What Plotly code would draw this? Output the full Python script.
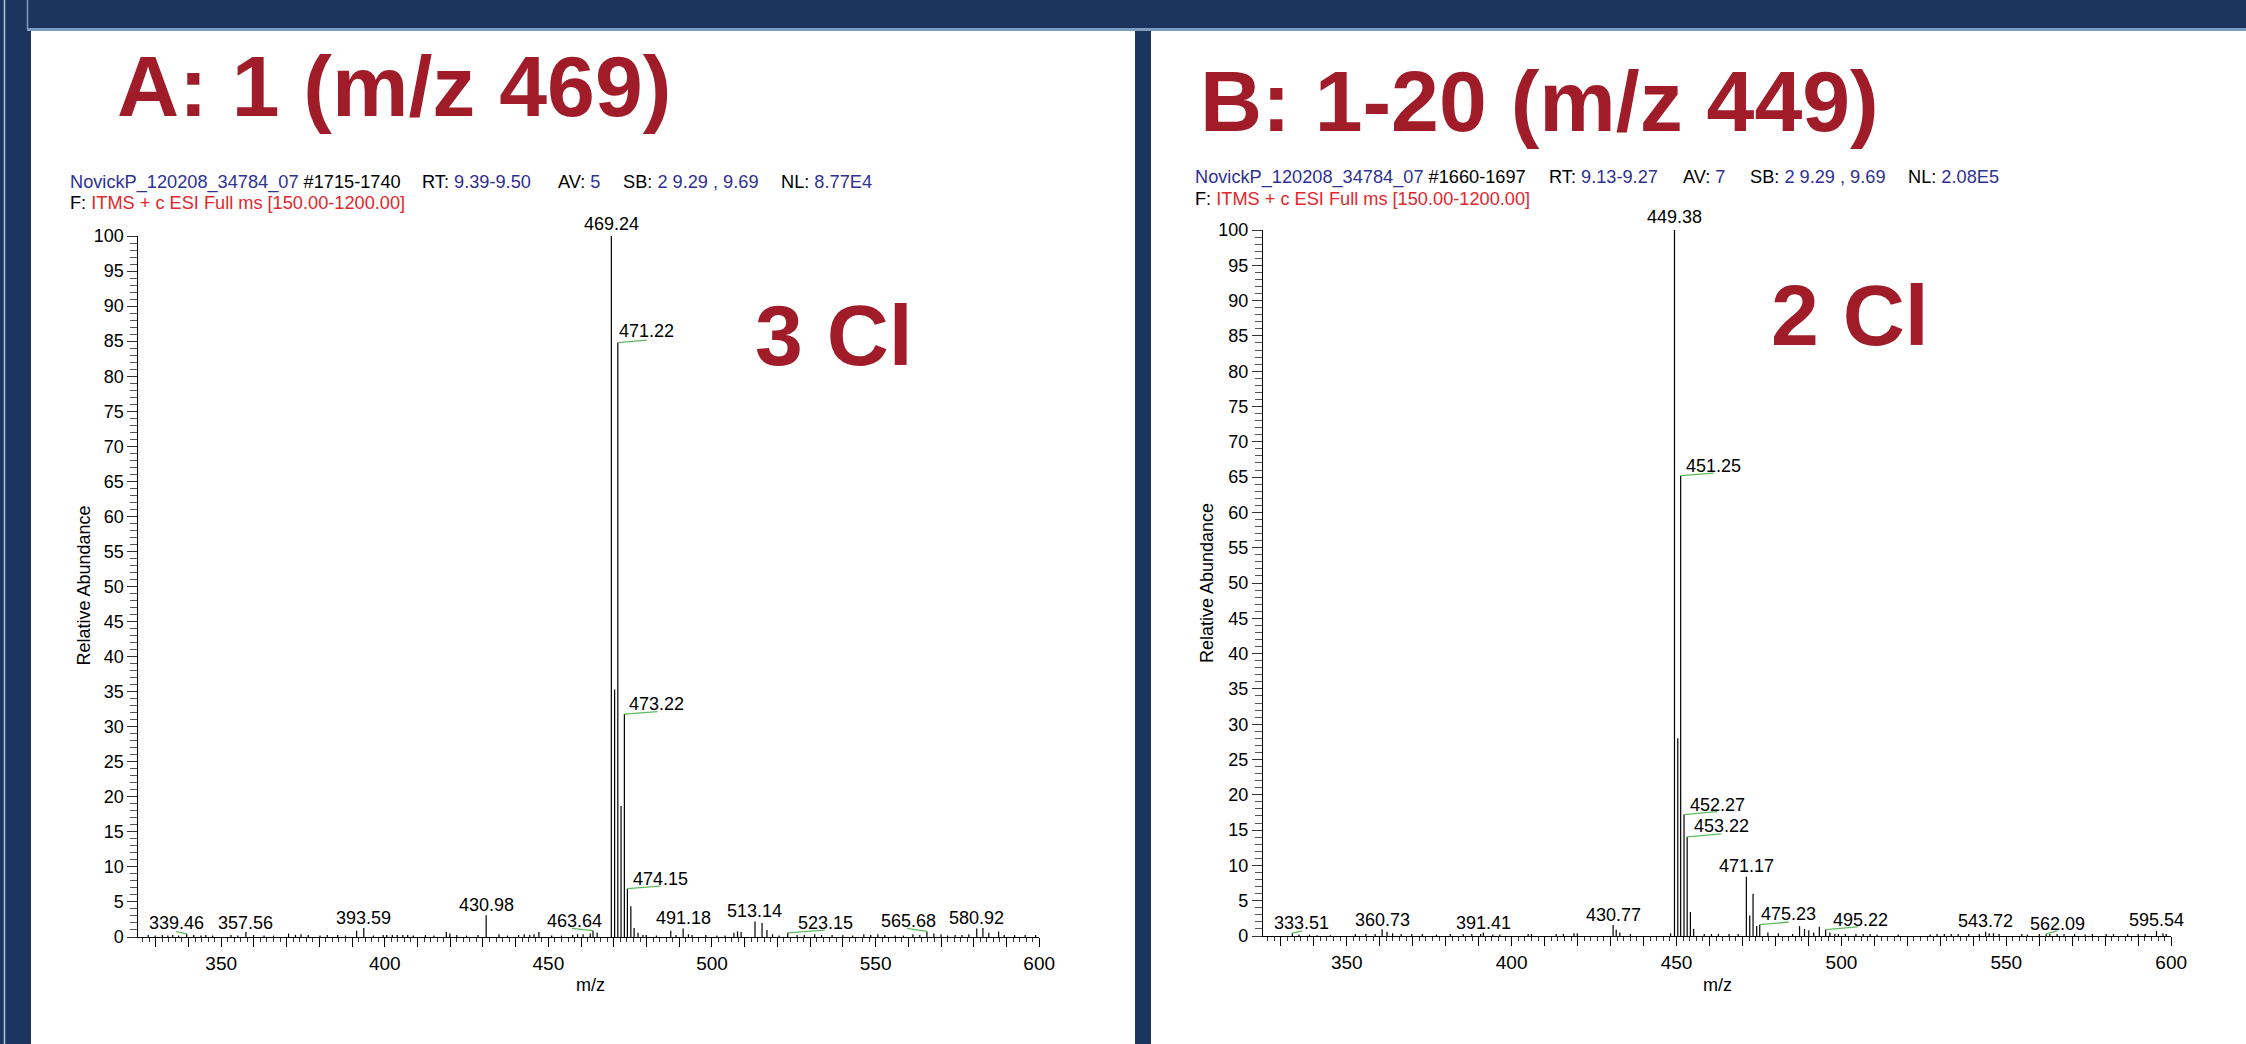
import plotly.graph_objects as go

W, H = 2246, 1044

# ---------------- Spectrum A : compound 1 (m/z 469) ----------------
A_ISO_MZ = [469.24, 470.24, 471.22, 472.21, 473.22, 474.15, 475.20, 476.20]
A_ISO_INT = [100.0, 35.3, 84.8, 18.7, 31.8, 6.9, 4.4, 1.3]

A_PEAK_MZ = [339.46, 357.56, 391.40, 393.59, 430.98, 463.64, 487.40, 491.18,
             513.14, 515.30, 516.80, 523.15, 565.68, 580.92, 582.80, 587.60]
A_PEAK_INT = [0.45, 0.7, 0.9, 1.3, 3.1, 0.9, 0.9, 1.2,
              2.2, 2.0, 1.0, 0.6, 0.8, 1.2, 1.3, 0.8]

A_NOISE_MZ = [327.7, 329.8, 332.0, 333.7, 335.2, 337.0, 341.6, 343.8, 345.3, 347.4,
              353.0, 355.1, 359.9, 363.1, 366.0, 370.6, 372.7, 374.4, 376.6, 380.2,
              382.4, 385.6, 388.0, 396.5, 399.5, 400.6, 402.3, 403.8, 405.5, 407.0,
              408.7, 412.4, 415.0, 418.8, 419.9, 422.0, 425.0, 428.5, 434.9, 437.5,
              440.9, 442.6, 444.3, 445.6, 447.1, 451.0, 454.0, 457.4, 458.9, 460.6,
              462.8, 464.9, 477.4, 478.9, 479.9, 483.0, 489.0, 492.8, 493.9, 498.1,
              501.5, 504.0, 506.7, 507.8, 508.9, 518.5, 520.5, 526.0, 528.2, 531.4,
              533.5, 536.7, 540.0, 543.0, 546.4, 548.5, 550.7, 552.8, 556.0, 558.5,
              561.4, 563.5, 567.8, 570.0, 572.0, 574.3, 576.4, 578.5, 584.6, 589.3,
              592.5, 595.7, 598.9]
A_NOISE_INT = [0.3, 0.2, 0.3, 0.2, 0.3, 0.2, 0.3, 0.2, 0.3, 0.2,
               0.3, 0.2, 0.3, 0.2, 0.2, 0.5, 0.3, 0.4, 0.3, 0.2,
               0.3, 0.3, 0.2, 0.2, 0.3, 0.3, 0.3, 0.3, 0.3, 0.3,
               0.2, 0.3, 0.2, 0.7, 0.5, 0.3, 0.2, 0.3, 0.4, 0.2,
               0.3, 0.4, 0.3, 0.4, 0.7, 0.2, 0.2, 0.3, 0.4, 0.4,
               0.5, 0.6, 0.6, 0.3, 0.3, 0.2, 0.3, 0.4, 0.3, 0.3,
               0.2, 0.2, 0.6, 0.8, 0.7, 0.4, 0.2, 0.3, 0.3, 0.4,
               0.3, 0.3, 0.3, 0.2, 0.4, 0.3, 0.4, 0.3, 0.2, 0.2,
               0.4, 0.3, 0.5, 0.4, 0.2, 0.3, 0.3, 0.4, 0.6, 0.3,
               0.3, 0.3, 0.3]

A_LABELLED = [469.24, 471.22, 473.22, 474.15, 339.46, 357.56, 393.59, 430.98,
              463.64, 491.18, 513.14, 523.15, 565.68, 580.92]

# ---------------- Spectrum B : compound 1-20 (m/z 449) ----------------
B_ISO_MZ = [449.38, 450.38, 451.25, 452.27, 453.22, 454.20, 455.20]
B_ISO_INT = [100.0, 28.0, 65.2, 17.2, 14.05, 3.4, 1.0]

B_PEAK_MZ = [333.51, 360.73, 391.41, 430.77, 431.70, 471.17, 472.20, 473.20,
             474.30, 475.23, 487.30, 488.80, 490.10, 493.30, 495.22, 543.72,
             562.09, 595.54]
B_PEAK_INT = [0.4, 0.95, 0.5, 1.56, 0.9, 8.4, 2.9, 6.0,
              1.4, 1.6, 1.4, 1.0, 0.8, 1.3, 0.9, 0.6,
              0.3, 0.7]

B_NOISE_MZ = [335.5, 338.7, 341.0, 345.0, 352.6, 355.8, 358.6, 362.2, 363.9, 366.5,
              369.7, 372.9, 377.2, 381.4, 385.3, 387.9, 390.6, 394.3, 396.4, 405.0,
              406.0, 413.5, 415.7, 418.9, 419.9, 432.8, 436.0, 448.2, 458.4, 460.6,
              462.7, 465.9, 468.7, 477.7, 480.9, 485.2, 491.6, 496.5, 498.0, 499.1,
              501.2, 504.4, 506.6, 508.7, 510.8, 517.2, 526.9, 529.0, 531.2, 533.3,
              535.4, 538.6, 541.8, 544.8, 546.1, 547.8, 554.7, 556.4, 560.0, 563.2,
              565.4, 567.5, 570.7, 573.9, 576.1, 580.3, 582.5, 586.8, 590.0, 592.1,
              597.5, 598.5]
B_NOISE_INT = [0.2, 0.2, 0.1, 0.1, 0.3, 0.3, 0.3, 0.6, 0.4, 0.3,
               0.3, 0.3, 0.2, 0.3, 0.3, 0.3, 0.3, 0.2, 0.2, 0.3,
               0.3, 0.3, 0.3, 0.4, 0.4, 0.5, 0.3, 0.4, 0.3, 0.3,
               0.3, 0.3, 0.3, 0.5, 0.4, 0.3, 0.5, 0.5, 0.3, 0.3,
               0.3, 0.3, 0.3, 0.3, 0.2, 0.2, 0.2, 0.3, 0.3, 0.3,
               0.3, 0.3, 0.3, 0.4, 0.4, 0.3, 0.3, 0.2, 0.3, 0.3,
               0.3, 0.3, 0.3, 0.2, 0.3, 0.3, 0.3, 0.3, 0.3, 0.3,
               0.4, 0.3]

B_LABELLED = [449.38, 451.25, 452.27, 453.22, 471.17, 475.23, 495.22, 430.77,
              333.51, 360.73, 391.41, 543.72, 562.09, 595.54]

# Scan header fields shown above each spectrum
A_SCAN, A_RT, A_AV, A_NL = "1715-1740", "9.39-9.50", "5", "8.77E4"
B_SCAN, B_RT, B_AV, B_NL = "1660-1697", "9.13-9.27", "7", "2.08E5"
RAW_FILE = "NovickP_120208_34784_07"
SB_TEXT = "2 9.29 , 9.69"
FILTER_TEXT = "ITMS + c ESI Full ms [150.00-1200.00]"

# Label placement (pixel offset of label centre, gap above peak top, leader end)
A_LABEL_STYLE = {
    469.24: (0, 5, None), 471.22: (29, 4.5, (29, 2.5)), 473.22: (32, 3, (33, 2.5)),
    474.15: (33, 3, (33, 2.6)), 339.46: (-10, 3.8, (-10.5, 2.3)), 357.56: (0, 2, None),
    393.59: (0, 3, None), 430.98: (0, 3, None), 463.64: (-19, 2.7, (-21, 2.4)),
    491.18: (0, 3.5, None), 513.14: (0, 3.5, None), 523.15: (38, 2.8, (37, 2.7)),
    565.68: (-18.4, 3.4, (-20, 3)), 580.92: (0, 3.5, None),
}
B_LABEL_STYLE = {
    449.38: (0, 6, None), 451.25: (33, 2.6, (33, 2.5)), 452.27: (33.7, 2.8, (33, 3)),
    453.22: (34, 3.4, (34, 3)), 471.17: (0, 3.7, None), 475.23: (29, 3.3, (29, 2.7)),
    495.22: (34.4, 2.9, (32, 2.7)), 430.77: (0, 3.3, None), 333.51: (9, 3.2, (10, 2.3)),
    360.73: (0, 2.3, None), 391.41: (0, 2.5, None), 543.72: (0, 3.8, None),
    562.09: (11, 3.2, (11, 3)), 595.54: (0, 4, None),
}

NAVY = "#1C355E"
EDGE = "#7D9CC0"
TITLE_RED = "#A01C29"
INFO_BLUE = "#2E3192"
INFO_RED = "#E0282E"
LEADER = "#5DBB5D"
FONT = "Liberation Sans, Arial, sans-serif"


def fx(px):
    return px / W


def fy(py):
    return 1 - py / H


def stick_xy(mzs, ints):
    xs, ys = [], []
    for m, v in zip(mzs, ints):
        xs += [m, m, None]
        ys += [0, v, None]
    return xs, ys


fig = go.Figure()

spectra = [
    ("x", "y", A_ISO_MZ + A_PEAK_MZ + A_NOISE_MZ, A_ISO_INT + A_PEAK_INT + A_NOISE_INT,
     A_LABELLED, A_LABEL_STYLE),
    ("x2", "y2", B_ISO_MZ + B_PEAK_MZ + B_NOISE_MZ, B_ISO_INT + B_PEAK_INT + B_NOISE_INT,
     B_LABELLED, B_LABEL_STYLE),
]

annotations = []
shapes = []

# white panels on navy slide background
shapes += [
    dict(type="rect", xref="paper", yref="paper", x0=fx(31), x1=fx(1135), y0=fy(1044), y1=fy(31),
         fillcolor="white", line_width=0, layer="below"),
    dict(type="rect", xref="paper", yref="paper", x0=fx(1151), x1=fx(2246), y0=fy(1044), y1=fy(31),
         fillcolor="white", line_width=0, layer="below"),
    dict(type="line", xref="paper", yref="paper", x0=fx(27), x1=fx(2246), y0=fy(29.5), y1=fy(29.5),
         line=dict(color=EDGE, width=3), layer="below"),
    dict(type="line", xref="paper", yref="paper", x0=fx(27.5), x1=fx(27.5), y0=fy(0), y1=fy(29.5),
         line=dict(color=EDGE, width=1.5), layer="below"),
    dict(type="line", xref="paper", yref="paper", x0=fx(4.5), x1=fx(4.5), y0=fy(0), y1=fy(1044),
         line=dict(color="#B8C3D2", width=1.5), layer="below"),
]

for xa, ya, mzs, ints, labelled, style in spectra:
    xs, ys = stick_xy(mzs, ints)
    fig.add_trace(go.Scatter(x=xs, y=ys, xaxis=xa, yaxis=ya, mode="lines",
                             line=dict(color="black", width=1.2),
                             hoverinfo="skip", showlegend=False))
    lookup = dict(zip(mzs, ints))
    for m in labelled:
        v = lookup[m]
        dx, gap, leader = style[m]
        annotations.append(dict(
            x=m, y=v, xref=xa, yref=ya, text=f"{m:.2f}", showarrow=False,
            xanchor="center", yanchor="bottom", xshift=dx, yshift=gap - 5,
            font=dict(family=FONT, size=18, color="black")))
        if leader is not None:
            shapes.append(dict(
                type="line", xref=xa, yref=ya, xsizemode="pixel", ysizemode="pixel",
                xanchor=m, yanchor=v, x0=0, y0=0, x1=leader[0], y1=leader[1],
                line=dict(color=LEADER, width=1.3)))

# panel titles
big = dict(family=FONT, size=86, color=TITLE_RED, weight="bold")
annotations += [
    dict(text="A: 1 (m/z 469)", x=fx(115), y=fy(36), xref="paper", yref="paper",
         xanchor="left", yanchor="top", showarrow=False, font=big),
    dict(text="B: 1-20 (m/z 449)", x=fx(1198), y=fy(51), xref="paper", yref="paper",
         xanchor="left", yanchor="top", showarrow=False, font=big),
    dict(text="3 Cl", x=fx(834), y=fy(335), xref="paper", yref="paper",
         xanchor="center", yanchor="middle", showarrow=False, font=big),
    dict(text="2 Cl", x=fx(1850), y=fy(315), xref="paper", yref="paper",
         xanchor="center", yanchor="middle", showarrow=False, font=big),
]


def blue(s):
    return f"<span style='color:{INFO_BLUE}'>{s}</span>"


# scan header: segments placed at their own x positions
for xs_seg, y1, y2, scan, rt, av, nl in [
    ((67.5, 420, 556, 621, 778.5), 182, 203, A_SCAN, A_RT, A_AV, A_NL),
    ((1192.6, 1547, 1681, 1748, 1906), 177, 199, B_SCAN, B_RT, B_AV, B_NL),
]:
    segs = [f"{blue(RAW_FILE)} #{scan}", f"RT: {blue(rt)}", f"AV: {blue(av)}",
            f"SB: {blue(SB_TEXT)}", f"NL: {blue(nl)}"]
    for sx, seg in zip(xs_seg, segs):
        annotations.append(dict(text=seg, x=fx(sx), y=fy(y1), xref="paper", yref="paper",
                                xanchor="left", yanchor="middle", showarrow=False,
                                font=dict(family=FONT, size=18.2, color="black")))
    annotations.append(dict(
        text=f"F: <span style='color:{INFO_RED}'>{FILTER_TEXT}</span>",
        x=fx(xs_seg[0]), y=fy(y2), xref="paper", yref="paper",
        xanchor="left", yanchor="middle", showarrow=False,
        font=dict(family=FONT, size=18.2, color="black")))

# axis titles
for cx, cy_x, cy_y, ycx in [(590, 985, 586, 83.5), (1717, 985, 583, 1207)]:
    annotations += [
        dict(text="m/z", x=fx(cx), y=fy(cy_x), xref="paper", yref="paper",
             xanchor="center", yanchor="middle", showarrow=False,
             font=dict(family=FONT, size=18, color="black")),
        dict(text="Relative Abundance", x=fx(ycx), y=fy(cy_y), xref="paper", yref="paper",
             xanchor="center", yanchor="middle", textangle=-90, showarrow=False,
             font=dict(family=FONT, size=18, color="black")),
    ]

XT = list(range(330, 601, 10))
XT_TEXT = [str(v) if v % 50 == 0 else "" for v in XT]


def xaxis_cfg(domain, rng, anchor):
    return dict(domain=domain, range=rng, anchor=anchor, automargin=False,
                showgrid=False, zeroline=False,
                showline=True, linecolor="black", linewidth=1.2, ticks="outside",
                tickmode="array", tickvals=XT, ticktext=XT_TEXT, ticklen=9, tickwidth=1,
                tickcolor="black", tickfont=dict(family=FONT, size=19, color="black"),
                minor=dict(dtick=2, tick0=0, ticks="outside", ticklen=4, tickwidth=1,
                           tickcolor="#333333"),
                fixedrange=True)


def yaxis_cfg(domain, anchor):
    return dict(domain=domain, range=[0, 100], anchor=anchor, automargin=False,
                showgrid=False, zeroline=False,
                showline=True, linecolor="black", linewidth=1.2, ticks="outside",
                tickmode="linear", tick0=0, dtick=5, ticklen=10, tickwidth=1.2,
                tickcolor="#333333", tickfont=dict(family=FONT, size=18, color="black"),
                minor=dict(dtick=1, tick0=0, ticks="outside", ticklen=7, tickwidth=1,
                           tickcolor="#555555"),
                fixedrange=True)


fig.update_layout(
    template="none",
    width=W, height=H, autosize=False,
    margin=dict(l=0, r=0, t=0, b=0, pad=0, autoexpand=False),
    paper_bgcolor=NAVY, plot_bgcolor="rgba(0,0,0,0)",
    showlegend=False,
    xaxis=xaxis_cfg([fx(138.4), fx(1039.2)], [324.7, 600], "y"),
    yaxis=yaxis_cfg([fy(937), fy(236)], "x"),
    xaxis2=xaxis_cfg([fx(1263), fx(2171.2)], [324.6, 600], "y2"),
    yaxis2=yaxis_cfg([fy(936), fy(230)], "x2"),
    annotations=annotations,
    shapes=shapes,
)

fig.write_html("out.html", config={"displayModeBar": False})
